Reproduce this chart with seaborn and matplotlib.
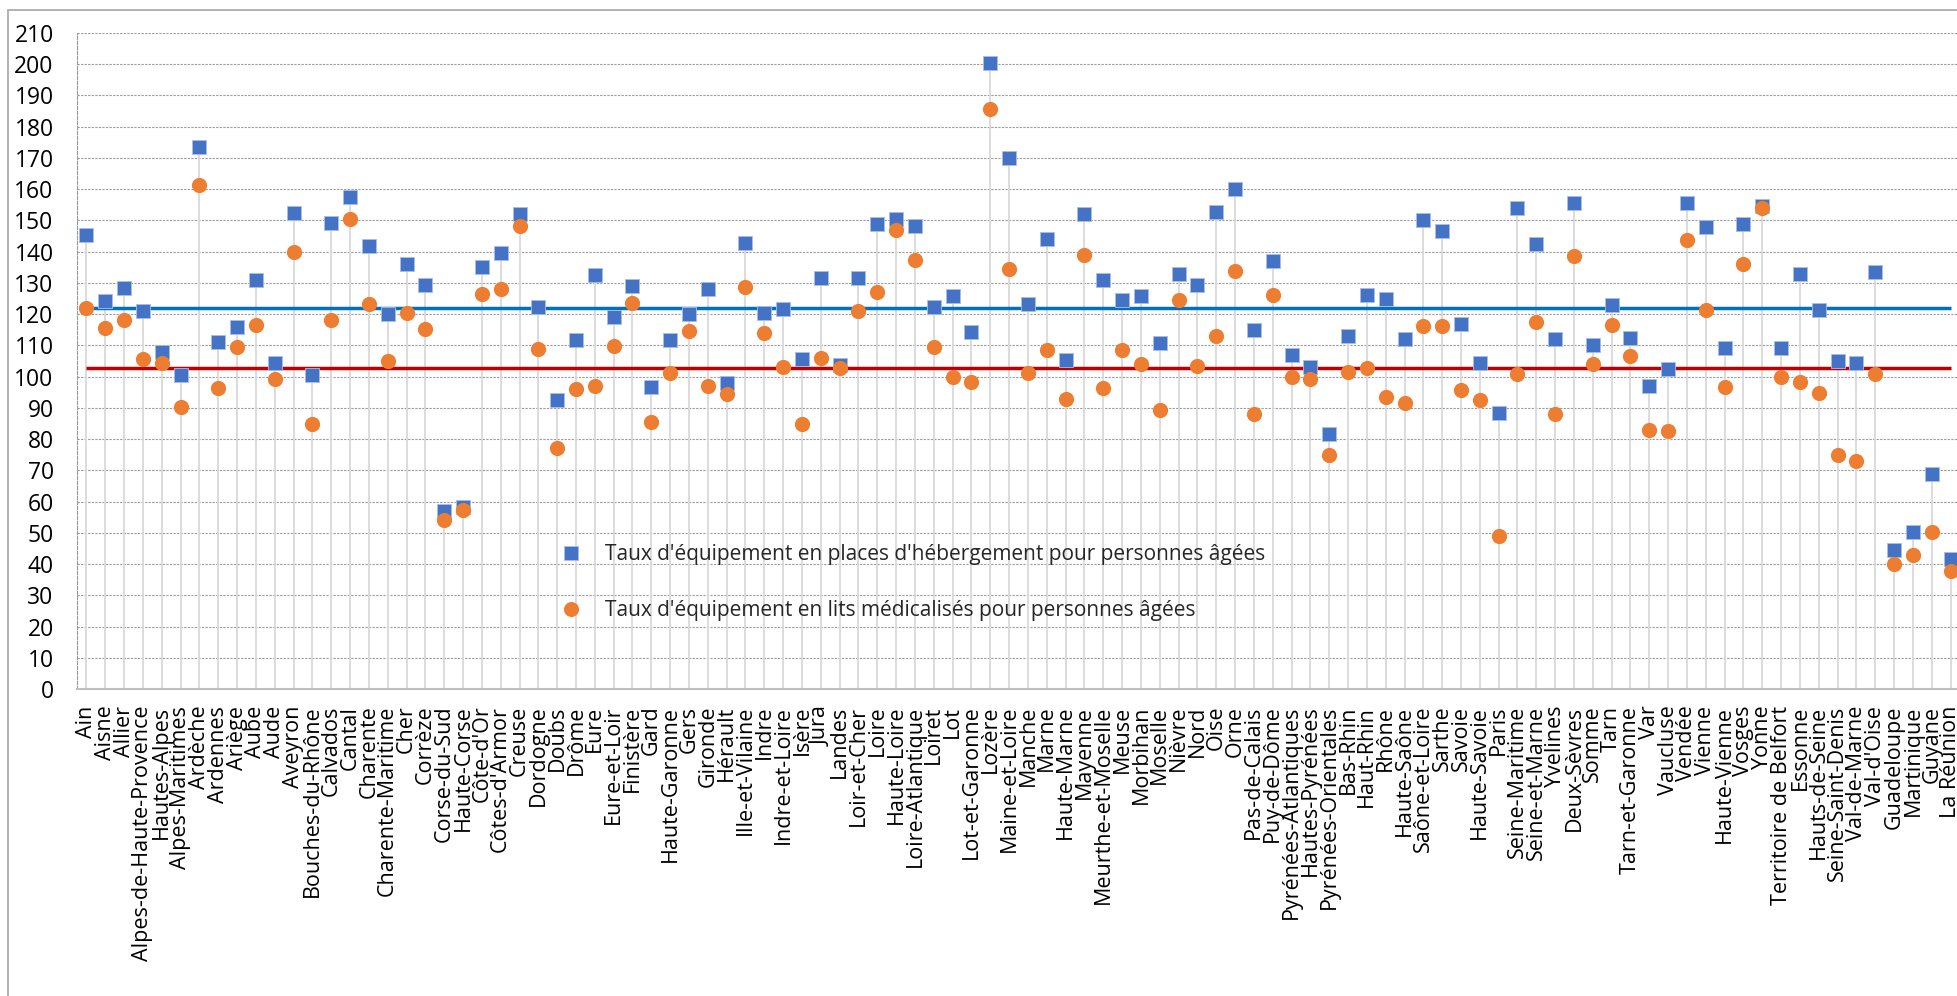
import numpy as np
import pandas as pd
import matplotlib
matplotlib.use("Agg")
import matplotlib.pyplot as plt
import seaborn as sns
from matplotlib.lines import Line2D
from matplotlib.patches import Rectangle

departements = [
    "Ain", "Aisne", "Allier", "Alpes-de-Haute-Provence", "Hautes-Alpes",
    "Alpes-Maritimes", "Ardèche", "Ardennes", "Ariège", "Aube", "Aude",
    "Aveyron", "Bouches-du-Rhône", "Calvados", "Cantal", "Charente",
    "Charente-Maritime", "Cher", "Corrèze", "Corse-du-Sud", "Haute-Corse",
    "Côte-d'Or", "Côtes-d'Armor", "Creuse", "Dordogne", "Doubs", "Drôme",
    "Eure", "Eure-et-Loir", "Finistère", "Gard", "Haute-Garonne", "Gers",
    "Gironde", "Hérault", "Ille-et-Vilaine", "Indre", "Indre-et-Loire",
    "Isère", "Jura", "Landes", "Loir-et-Cher", "Loire", "Haute-Loire",
    "Loire-Atlantique", "Loiret", "Lot", "Lot-et-Garonne", "Lozère",
    "Maine-et-Loire", "Manche", "Marne", "Haute-Marne", "Mayenne",
    "Meurthe-et-Moselle", "Meuse", "Morbihan", "Moselle", "Nièvre", "Nord",
    "Oise", "Orne", "Pas-de-Calais", "Puy-de-Dôme", "Pyrénées-Atlantiques",
    "Hautes-Pyrénées", "Pyrénées-Orientales", "Bas-Rhin", "Haut-Rhin",
    "Rhône", "Haute-Saône", "Saône-et-Loire", "Sarthe", "Savoie",
    "Haute-Savoie", "Paris", "Seine-Maritime", "Seine-et-Marne", "Yvelines",
    "Deux-Sèvres", "Somme", "Tarn", "Tarn-et-Garonne", "Var", "Vaucluse",
    "Vendée", "Vienne", "Haute-Vienne", "Vosges", "Yonne",
    "Territoire de Belfort", "Essonne", "Hauts-de-Seine",
    "Seine-Saint-Denis", "Val-de-Marne", "Val-d'Oise", "Guadeloupe",
    "Martinique", "Guyane", "La Réunion",
]

# Places d'hébergement pour 1 000 personnes âgées
places = [
    145.4, 124.1, 128.4, 121.0, 107.9, 100.4, 173.6, 111.1, 116.0, 130.9,
    104.3, 152.3, 100.4, 149.1, 157.6, 141.7, 120.0, 136.1, 129.3, 56.9,
    58.3, 135.0, 139.7, 152.1, 122.4, 92.6, 111.6, 132.4, 119.1, 129.1,
    96.6, 111.7, 120.0, 128.1, 98.1, 142.7, 120.3, 121.6, 105.7, 131.7,
    103.6, 131.7, 149.0, 150.6, 148.3, 122.3, 125.7, 114.3, 200.4, 170.0,
    123.4, 144.1, 105.3, 151.9, 131.0, 124.6, 125.7, 110.7, 132.9, 129.4,
    152.6, 160.0, 115.0, 136.9, 107.0, 103.0, 81.7, 113.1, 126.1, 124.9,
    111.9, 150.0, 146.6, 116.9, 104.3, 88.3, 154.0, 142.4, 112.1, 155.6,
    110.1, 123.0, 112.3, 97.1, 102.3, 155.6, 147.9, 109.3, 148.9, 154.7,
    109.3, 132.7, 121.3, 105.1, 104.3, 133.4, 44.4, 50.3, 68.9, 41.6,
]

# Lits médicalisés pour 1 000 personnes âgées
lits = [
    122.1, 115.6, 118.0, 105.6, 104.3, 90.3, 161.3, 96.3, 109.6, 116.4,
    99.1, 139.9, 84.9, 118.0, 150.3, 123.4, 104.9, 120.3, 115.1, 54.0,
    57.4, 126.4, 127.9, 148.1, 108.9, 77.3, 96.1, 96.9, 109.9, 123.7,
    85.6, 101.0, 114.7, 97.1, 94.3, 128.7, 113.9, 103.0, 84.7, 105.9,
    102.7, 121.0, 127.1, 146.9, 137.4, 109.4, 100.0, 98.3, 185.7, 134.3,
    101.3, 108.4, 92.7, 139.0, 96.3, 108.4, 104.0, 89.4, 124.4, 103.3,
    113.0, 133.7, 87.9, 126.1, 100.0, 99.3, 74.9, 101.6, 102.9, 93.6,
    91.4, 116.1, 116.1, 95.7, 92.4, 48.9, 100.9, 117.4, 87.9, 138.7,
    104.0, 116.6, 106.7, 82.9, 82.7, 143.6, 121.3, 96.7, 136.0, 154.0,
    100.0, 98.3, 94.7, 74.9, 72.9, 100.7, 39.9, 42.9, 50.1, 37.7,
]

# Moyennes nationales
moyenne_places = 121.9
moyenne_lits = 102.6

libelle_places = "Taux d'équipement en places d'hébergement pour personnes âgées"
libelle_lits = "Taux d'équipement en lits médicalisés pour personnes âgées"
graduations = list(range(0, 211, 10))

sns.set_style("white")
plt.rcParams["font.family"] = ["Open Sans", "DejaVu Sans"]

W, H = 1957, 996
fig = plt.figure(figsize=(W / 100, H / 100), dpi=100)
fig.patch.set_facecolor("white")

# chart area frame (runs off the right and bottom edges)
fig.add_artist(Rectangle((7.5 / W, -0.05), 1.2, 1.05 - 10 / H,
                         transform=fig.transFigure, fill=False,
                         edgecolor="#a6a6a6", linewidth=1.2, zorder=0))

ax = fig.add_axes([77 / W, (H - 689) / H, 1883 / W, 656 / H])

pos = np.arange(len(departements))
df = pd.DataFrame({"pos": pos, "departement": departements,
                   "places": places, "lits": lits})

# drop lines from the highest marker down to the axis
ax.vlines(df["pos"], 0, df[["places", "lits"]].max(axis=1),
          color="#d9d9d9", linewidth=1.3, zorder=1)

# national averages
ax.hlines(moyenne_places, pos[0], pos[-1], color="#0070C0",
          linewidth=2.5, zorder=2)
ax.hlines(moyenne_lits, pos[0], pos[-1], color="#C00000",
          linewidth=2.5, zorder=2)

sns.scatterplot(data=df, x="pos", y="places", marker="s", s=105,
                color="#4472C4", edgecolor="#a9bfe6", linewidth=0.6,
                ax=ax, zorder=3, legend=False)
sns.scatterplot(data=df, x="pos", y="lits", marker="o", s=120,
                color="#ED7D31", edgecolor="#ED7D31", linewidth=0,
                ax=ax, zorder=4, legend=False)

ax.set_xlim(-0.5, len(departements) - 0.5)
ax.set_ylim(0, 210)
ax.set_yticks(graduations)
ax.set_yticklabels([str(v) for v in graduations], fontsize=16.5)
ax.set_xticks(pos)
ax.set_xticklabels(departements, rotation=90, fontsize=15.5)
ax.set_xlabel("")
ax.set_ylabel("")

ax.tick_params(axis="x", length=0, pad=12, colors="black")
ax.tick_params(axis="y", length=5.8, width=0.8, color="#a6a6a6", pad=11,
               labelcolor="black")

ax.set_axisbelow(True)
ax.grid(axis="y", color="#9a9a9a", linestyle=(0, (2, 1.2)), linewidth=0.8)
ax.grid(axis="x", visible=False)

for side in ("top", "right"):
    ax.spines[side].set_visible(False)
ax.spines["left"].set_color("#9a9a9a")
ax.spines["left"].set_linestyle((0, (3, 1.5)))
ax.spines["left"].set_linewidth(0.8)
ax.spines["bottom"].set_color("#bfbfbf")
ax.spines["bottom"].set_linewidth(1.5)

handles = [
    Line2D([], [], linestyle="none", marker="s", markersize=10.2,
           markerfacecolor="#4472C4", markeredgecolor="#a9bfe6",
           markeredgewidth=0.6, label=libelle_places),
    Line2D([], [], linestyle="none", marker="o", markersize=10.8,
           markerfacecolor="#ED7D31", markeredgewidth=0, label=libelle_lits),
]
ax.legend(handles=handles, loc="upper left",
          bbox_to_anchor=(561 / W, 1 - 544 / H),
          bbox_transform=fig.transFigure, frameon=False, fontsize=15,
          handlelength=1.0, handletextpad=1.1, labelspacing=1.7,
          borderpad=0, borderaxespad=0)

fig.savefig("out.png", dpi=100, facecolor="white")
